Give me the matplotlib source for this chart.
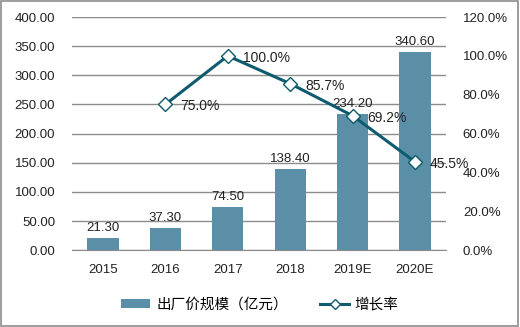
import numpy as np
import matplotlib
matplotlib.use("Agg")
import matplotlib.pyplot as plt
from matplotlib.patches import Rectangle

plt.rcParams['font.family'] = ['Liberation Sans', 'Noto Sans CJK SC']

# data
years = ['2015', '2016', '2017', '2018', '2019E', '2020E']
scale = [21.30, 37.30, 74.50, 138.40, 234.20, 340.60]
rate_years = ['2016', '2017', '2018', '2019E', '2020E']
rate = [75.0, 100.0, 85.7, 69.2, 45.5]

bar_color = '#5b8fa8'
line_color = '#0e5a6e'

fig = plt.figure(figsize=(5.2, 3.27), dpi=100)
fig.patches.append(Rectangle((0.002, 0.003), 0.995, 0.993, transform=fig.transFigure,
                             fill=False, edgecolor='#8c8c8c', linewidth=1.2))
ax = fig.add_axes([0.138, 0.235, 0.72, 0.713])
x = np.arange(len(years))

ax.bar(x, scale, width=0.5, color=bar_color, zorder=2, label='出厂价规模（亿元）')
for xi, v in zip(x, scale):
    ax.text(xi, v + 7, f'{v:.2f}', ha='center', va='bottom', fontsize=9.5, color='#222222')

ax.set_ylim(0, 400)
ax.set_yticks(np.arange(0, 401, 50))
ax.set_yticklabels([f'{v:.2f}' for v in np.arange(0, 401, 50)])
ax.set_xlim(-0.5, len(years) - 0.5)
ax.set_xticks(x)
ax.set_xticklabels(years)
ax.grid(axis='y', color='#8c8c8c', linewidth=1, zorder=0)
ax.set_axisbelow(True)
for s in ['top', 'left', 'right']:
    ax.spines[s].set_visible(False)
ax.spines['bottom'].set_color('#8c8c8c')
ax.tick_params(length=0, labelsize=9.5, colors='#222222')
ax.tick_params(axis='x', pad=10)
ax.tick_params(axis='y', pad=12)

ax2 = ax.twinx()
rx = [years.index(y) for y in rate_years]
ax2.plot(rx, rate, color=line_color, linewidth=2.2, marker='D', markersize=7,
         markerfacecolor='white', markeredgecolor=line_color, markeredgewidth=1,
         zorder=3, label='增长率')
for xi, v in zip(rx, rate):
    ax2.text(xi + 0.24, v - 1, f'{v:.1f}%', ha='left', va='center', fontsize=10, color='#222222')
ax2.set_ylim(0, 120)
ax2.set_yticks(np.arange(0, 121, 20))
ax2.set_yticklabels([f'{v:.1f}%' for v in np.arange(0, 121, 20)])
for s in ['top', 'left', 'right', 'bottom']:
    ax2.spines[s].set_visible(False)
ax2.tick_params(length=0, labelsize=9.5, colors='#222222', pad=12)

h1, l1 = ax.get_legend_handles_labels()
h2, l2 = ax2.get_legend_handles_labels()
fig.legend(h1 + h2, l1 + l2, loc='center', bbox_to_anchor=(0.5, 0.068), ncol=2,
           frameon=False, fontsize=10.5, handlelength=2.0, handleheight=0.5,
           markerscale=0.7, columnspacing=2.2, handletextpad=0.4)

fig.savefig('out.png', dpi=100)
